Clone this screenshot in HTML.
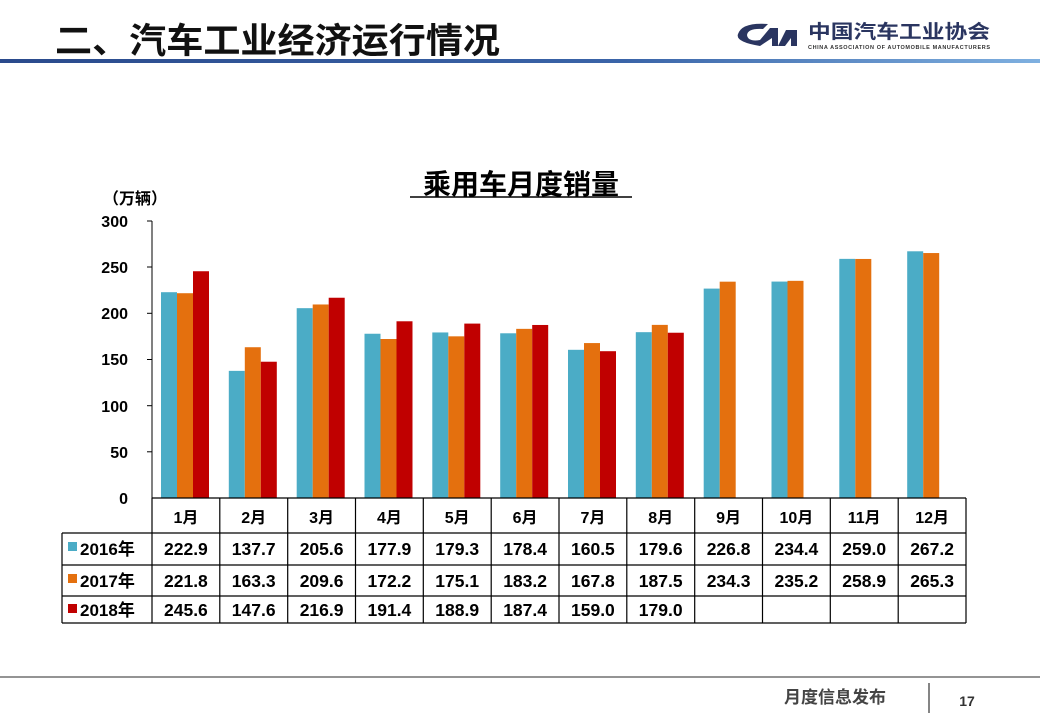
<!DOCTYPE html>
<html><head><meta charset="utf-8"><style>
body{margin:0;width:1040px;height:720px;overflow:hidden;background:#fff;}
svg text{font-family:"Liberation Sans","Noto Sans CJK SC",sans-serif;font-weight:bold;}
</style></head><body>
<svg width="1040" height="720" viewBox="0 0 1040 720" xmlns="http://www.w3.org/2000/svg">
<defs><linearGradient id="g" x1="0" x2="1"><stop offset="0" stop-color="#2a4a8c"/><stop offset="0.6" stop-color="#3a64a8"/><stop offset="1" stop-color="#7fb0e0"/></linearGradient></defs>
<text x="55" y="53" font-size="35" fill="#111" textLength="445" lengthAdjust="spacingAndGlyphs">二、汽车工业经济运行情况</text>
<path d="M760 46 Q735 42 738 34 Q742 22 768 24 L763 29 Q748 28 747 35 Q748 42 760 40 L770 28 L778 28 L778 46 L786 30 L797 30 L797 46 L791 46 L791 38 L785 46 L772 46 L772 38 Z" fill="#2a3560"/>
<text x="808" y="38" font-size="19" fill="#2a3560" textLength="182" lengthAdjust="spacingAndGlyphs">中国汽车工业协会</text>
<text x="808" y="49" font-size="5.5" fill="#333" font-weight="normal" textLength="182">CHINA ASSOCIATION OF AUTOMOBILE MANUFACTURERS</text>
<rect x="0" y="59" width="1040" height="4" fill="url(#g)"/>
<text x="521" y="194" font-size="28" text-anchor="middle" fill="#000">乘用车月度销量</text>
<line x1="410" y1="197" x2="632" y2="197" stroke="#000" stroke-width="1.5"/>
<text x="103" y="204" font-size="16" fill="#000">（万辆）</text>
<g font-size="16" text-anchor="end" fill="#000">
<text x="128" y="227">300</text><text x="128" y="273">250</text><text x="128" y="319">200</text><text x="128" y="365">150</text><text x="128" y="412">100</text><text x="128" y="458">50</text><text x="128" y="504">0</text>
</g>
<line x1="152" y1="221" x2="152" y2="498" stroke="#000"/>
<g stroke="#000"><line x1="147" y1="221" x2="152" y2="221"/><line x1="147" y1="267" x2="152" y2="267"/><line x1="147" y1="313.3" x2="152" y2="313.3"/><line x1="147" y1="359.5" x2="152" y2="359.5"/><line x1="147" y1="405.7" x2="152" y2="405.7"/><line x1="147" y1="451.8" x2="152" y2="451.8"/></g>
<g transform="translate(0,498) scale(1,-0.9233)">
<g fill="#4bacc6">
<rect x="161" width="16" height="222.9"/><rect x="228.8" width="16" height="137.7"/><rect x="296.7" width="16" height="205.6"/><rect x="364.5" width="16" height="177.9"/><rect x="432.3" width="16" height="179.3"/><rect x="500.2" width="16" height="178.4"/><rect x="568" width="16" height="160.5"/><rect x="635.8" width="16" height="179.6"/><rect x="703.7" width="16" height="226.8"/><rect x="771.5" width="16" height="234.4"/><rect x="839.3" width="16" height="259"/><rect x="907.2" width="16" height="267.2"/>
</g>
<g fill="#e4700e">
<rect x="177" width="16" height="221.8"/><rect x="244.8" width="16" height="163.3"/><rect x="312.7" width="16" height="209.6"/><rect x="380.5" width="16" height="172.2"/><rect x="448.3" width="16" height="175.1"/><rect x="516.2" width="16" height="183.2"/><rect x="584" width="16" height="167.8"/><rect x="651.8" width="16" height="187.5"/><rect x="719.7" width="16" height="234.3"/><rect x="787.5" width="16" height="235.2"/><rect x="855.3" width="16" height="258.9"/><rect x="923.2" width="16" height="265.3"/>
</g>
<g fill="#c00000">
<rect x="193" width="16" height="245.6"/><rect x="260.8" width="16" height="147.6"/><rect x="328.7" width="16" height="216.9"/><rect x="396.5" width="16" height="191.4"/><rect x="464.3" width="16" height="188.9"/><rect x="532.2" width="16" height="187.4"/><rect x="600" width="16" height="159"/><rect x="667.8" width="16" height="179"/>
</g>
</g>
<g stroke="#000" stroke-width="1.2" fill="none">
<line x1="152" y1="498" x2="966" y2="498"/>
<line x1="62" y1="533" x2="966" y2="533"/>
<line x1="62" y1="565" x2="966" y2="565"/>
<line x1="62" y1="596" x2="966" y2="596"/>
<line x1="62" y1="623" x2="966" y2="623"/>
<line x1="62" y1="533" x2="62" y2="623"/>
<line x1="152" y1="498" x2="152" y2="623"/><line x1="219.8" y1="498" x2="219.8" y2="623"/><line x1="287.7" y1="498" x2="287.7" y2="623"/><line x1="355.5" y1="498" x2="355.5" y2="623"/><line x1="423.3" y1="498" x2="423.3" y2="623"/><line x1="491.2" y1="498" x2="491.2" y2="623"/><line x1="559" y1="498" x2="559" y2="623"/><line x1="626.8" y1="498" x2="626.8" y2="623"/><line x1="694.7" y1="498" x2="694.7" y2="623"/><line x1="762.5" y1="498" x2="762.5" y2="623"/><line x1="830.3" y1="498" x2="830.3" y2="623"/><line x1="898.2" y1="498" x2="898.2" y2="623"/><line x1="966" y1="498" x2="966" y2="623"/>
</g>
<g font-size="16" text-anchor="middle" fill="#000">
<text x="185.9" y="523">1月</text><text x="253.7" y="523">2月</text><text x="321.6" y="523">3月</text><text x="389.4" y="523">4月</text><text x="457.2" y="523">5月</text><text x="525.1" y="523">6月</text><text x="592.9" y="523">7月</text><text x="660.7" y="523">8月</text><text x="728.6" y="523">9月</text><text x="796.4" y="523">10月</text><text x="864.2" y="523">11月</text><text x="932.1" y="523">12月</text>
</g>
<g font-size="17.5" text-anchor="middle" fill="#000">
<text x="185.9" y="555">222.9</text><text x="253.7" y="555">137.7</text><text x="321.6" y="555">205.6</text><text x="389.4" y="555">177.9</text><text x="457.2" y="555">179.3</text><text x="525.1" y="555">178.4</text><text x="592.9" y="555">160.5</text><text x="660.7" y="555">179.6</text><text x="728.6" y="555">226.8</text><text x="796.4" y="555">234.4</text><text x="864.2" y="555">259.0</text><text x="932.1" y="555">267.2</text>
<text x="185.9" y="587">221.8</text><text x="253.7" y="587">163.3</text><text x="321.6" y="587">209.6</text><text x="389.4" y="587">172.2</text><text x="457.2" y="587">175.1</text><text x="525.1" y="587">183.2</text><text x="592.9" y="587">167.8</text><text x="660.7" y="587">187.5</text><text x="728.6" y="587">234.3</text><text x="796.4" y="587">235.2</text><text x="864.2" y="587">258.9</text><text x="932.1" y="587">265.3</text>
<text x="185.9" y="616">245.6</text><text x="253.7" y="616">147.6</text><text x="321.6" y="616">216.9</text><text x="389.4" y="616">191.4</text><text x="457.2" y="616">188.9</text><text x="525.1" y="616">187.4</text><text x="592.9" y="616">159.0</text><text x="660.7" y="616">179.0</text>
</g>
<rect x="68" y="542" width="9" height="9" fill="#4bacc6"/>
<rect x="68" y="574" width="9" height="9" fill="#e4700e"/>
<rect x="68" y="604" width="9" height="9" fill="#c00000"/>
<g font-size="17" fill="#000"><text x="80" y="555">2016年</text><text x="80" y="587">2017年</text><text x="80" y="616">2018年</text></g>
<line x1="0" y1="677" x2="1040" y2="677" stroke="#555" stroke-width="1.2"/>
<line x1="929" y1="683" x2="929" y2="713" stroke="#333" stroke-width="1.2"/>
<text x="835" y="703" font-size="17" text-anchor="middle" fill="#444">月度信息发布</text>
<text x="967" y="706" font-size="14" text-anchor="middle" fill="#333">17</text>
</svg>
</body></html>
